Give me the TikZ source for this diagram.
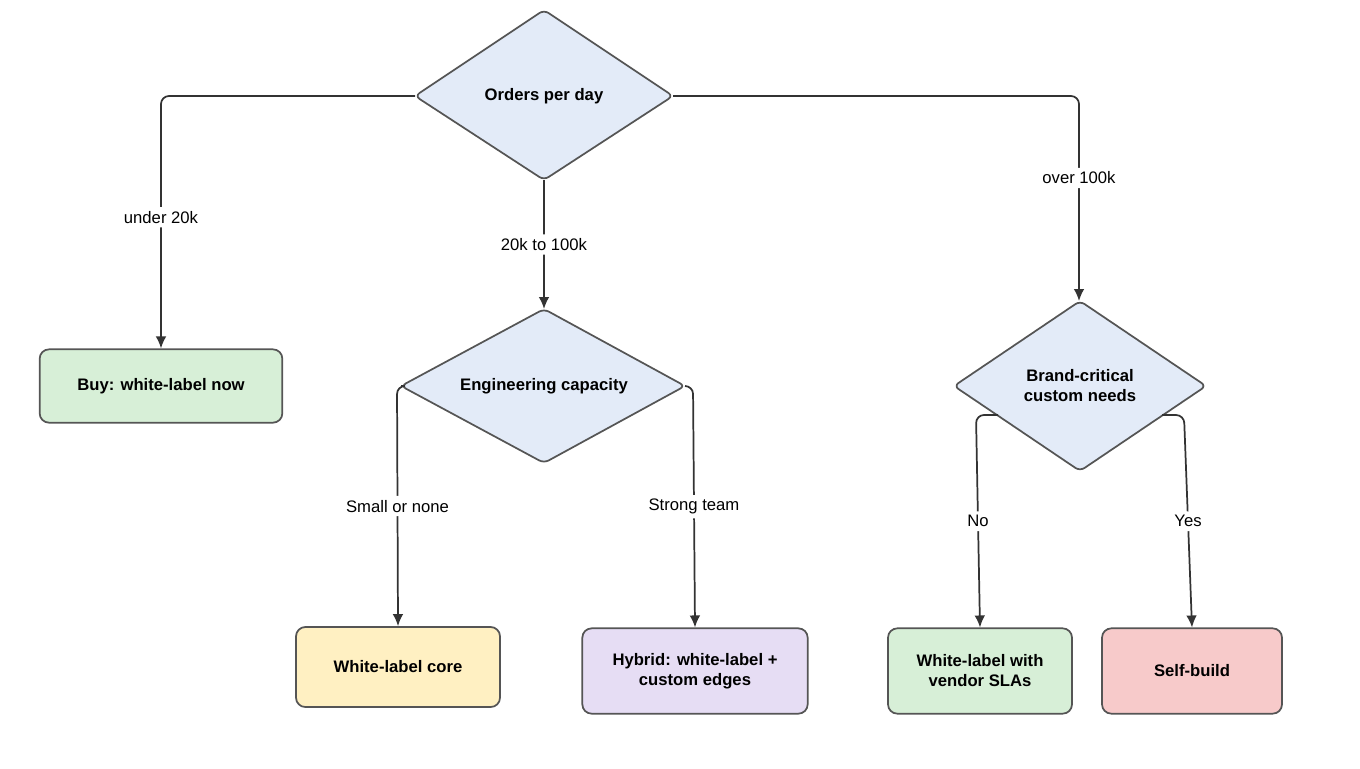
\documentclass[tikz,border=0pt]{standalone}
\usepackage{fontspec}
\setmainfont{Liberation Sans}
\usetikzlibrary{arrows.meta}
\definecolor{dfill}{HTML}{E3EBF8}
\definecolor{gfill}{HTML}{D7EFD7}
\definecolor{yfill}{HTML}{FFF0C2}
\definecolor{pfill}{HTML}{E6DDF4}
\definecolor{rfill}{HTML}{F7CACA}
\definecolor{edge}{HTML}{555555}
\begin{document}
\begin{tikzpicture}[x=0.75pt,y=-0.75pt,
  txt/.style={font=\fontsize{12.5}{15}\selectfont\bfseries,align=center},
  dia/.style={draw=edge,line width=1.3pt,fill=dfill,rounded corners=4pt,line join=round},
  box/.style={draw=edge,line width=1.3pt,rounded corners=7pt,txt},
  conn/.style={draw=black!80,line width=1.3pt,rounded corners=6pt,-{Latex[length=9pt,width=8pt]}},
  lab/.style={fill=white,font=\fontsize{12.5}{15}\selectfont,inner sep=3pt}]
\useasboundingbox (0,0) rectangle (1360,768);
% diamonds
\draw[dia] (415,96) -- (544,10) -- (673,96) -- (544,180) -- cycle;
\node[txt] (d1) at (544,96) {Orders per day};
\draw[dia] (401,386) -- (544,309) -- (685,386) -- (544,463) -- cycle;
\node[txt] (d2) at (544,386) {Engineering capacity};
\draw[dia] (954,386) -- (1080,301) -- (1206,386) -- (1080,471) -- cycle;
\node[txt] (d3) at (1080,386) {Brand-critical\\custom needs};
% boxes
\node[box,fill=gfill,minimum width=182pt,minimum height=55pt] (b1) at (161,386) {Buy: white-label now};
\node[box,fill=yfill,minimum width=153pt,minimum height=60pt] (b2) at (398,667) {White-label core};
\node[box,fill=pfill,minimum width=169pt,minimum height=64pt] (b3) at (695,671) {Hybrid: white-label +\\custom edges};
\node[box,fill=gfill,minimum width=138pt,minimum height=64pt] (b4) at (980,671) {White-label with\\vendor SLAs};
\node[box,fill=rfill,minimum width=135pt,minimum height=64pt] (b5) at (1192,671) {Self-build};
% coordinates
\coordinate (d1w) at (415,96); \coordinate (d1s) at (544,180); \coordinate (d1e) at (673,96);
\coordinate (d2w) at (401,386); \coordinate (d2e) at (685,386);
\coordinate (d3w) at (998,415); \coordinate (d3e) at (1162,415);
\coordinate (d2n) at (544,309); \coordinate (d3n) at (1079,301);
% connectors
\draw[conn] (d1w) -- (161,96) -- (b1.north) node[lab,pos=0.48] {under 20k};
\draw[conn] (d1s) -- (d2n) node[lab,midway] {20k to 100k};
\draw[conn] (d1e) -- (1079,96) -- (d3n) node[lab,pos=0.4] {over 100k};
\draw[conn] (d2w) -- (397,386) -- (b2.north) node[lab,midway] {Small or none};
\draw[conn] (d2e) -- (693,386) -- (b3.north) node[lab,midway] {Strong team};
\draw[conn] (d3w) -- (976,415) -- (b4.north) node[lab,midway] {No};
\draw[conn] (d3e) -- (1184,415) -- (b5.north) node[lab,midway] {Yes};
\end{tikzpicture}
\end{document}
